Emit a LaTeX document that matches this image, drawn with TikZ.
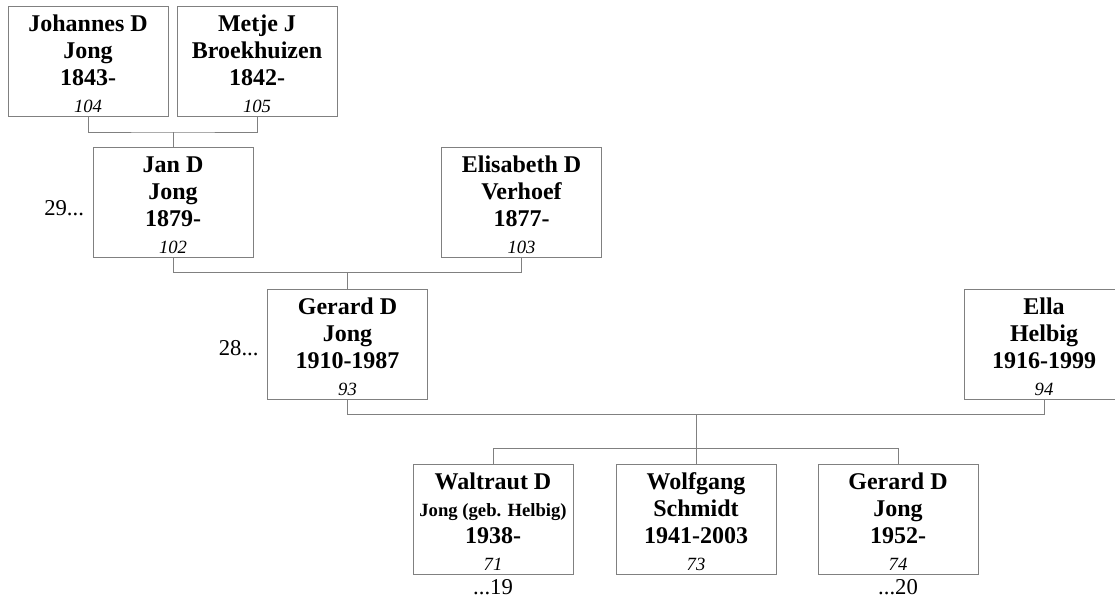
\documentclass[tikz,border=0pt]{standalone}
\usepackage{fontspec}
\setmainfont{Liberation Serif}
\usetikzlibrary{positioning,calc}

\tikzset{every picture/.style={line width=0.75pt}}
\definecolor{linegray}{RGB}{128,128,128}
\newcommand{\topgap}{\rule{0pt}{16pt}}
\newcommand{\refno}[1]{{\fontsize{14}{20.25}\selectfont\mdseries\itshape #1}}

\begin{document}
\begin{tikzpicture}[x=0.75pt,y=0.75pt,yscale=-1,xscale=1,
	person/.style={draw=linegray,fill=white,minimum width=120pt,minimum height=82.5pt,inner sep=0pt,align=center,font=\fontsize{18}{20.25}\selectfont\bfseries},
	link/.style={draw=linegray},
	side/.style={font=\fontsize{17}{20}\selectfont,inner sep=0pt}]
	\useasboundingbox (0,0) rectangle (1115,601);

	% Persons
	\node[person] (p104) at (88,61) {\topgap Johannes D\\Jong\\1843-\\\refno{104}};
	\node[person] (p105) at (257,61) {\topgap Metje J\\Broekhuizen\\1842-\\\refno{105}};
	\node[person] (p102) at (173,202.5) {\topgap Jan D\\Jong\\1879-\\\refno{102}};
	\node[person] (p103) at (521.5,202.5) {\topgap Elisabeth D\\Verhoef\\1877-\\\refno{103}};
	\node[person] (p93) at (347.5,344) {\topgap Gerard D\\Jong\\1910-1987\\\refno{93}};
	\node[person] (p94) at (1044,344) {\topgap Ella\\Helbig\\1916-1999\\\refno{94}};
	\node[person] (p71) at (493,519.5) {\topgap Waltraut D\\{\fontsize{14}{18.5}\selectfont Jong (geb. Helbig)}\\1938-\\\refno{71}};
	\node[person] (p73) at (696,519.5) {\topgap Wolfgang\\Schmidt\\1941-2003\\\refno{73}};
	\node[person] (p74) at (898,519.5) {\topgap Gerard D\\Jong\\1952-\\\refno{74}};

	% Family junctions
	\coordinate (f1) at (173,132);
	\coordinate (f2) at (347.5,272.5);
	\coordinate (f3) at (696,414.5);

	% Connectors
	\draw[link] (p104.south) |- (f1) -| (p105.south);
	\draw[link] (f1) -- (p102.north);
	\draw[link] (p102.south) |- (f2) -| (p103.south);
	\draw[link] (f2) -- (p93.north);
	\draw[link] (p93.south) |- (f3) -| (p94.south);
	\draw[link] (f3) -- (p73.north);
	\draw[link] (p71.north) -- ++(0,-16) -| (p74.north);

	% Text Node
	\node[side,anchor=east] (l29) at ([xshift=-6pt,yshift=4pt]p102.west) {29...};
	% Text Node
	\node[side,anchor=east] (l28) at ([xshift=-6pt,yshift=3pt]p93.west) {28...};
	% Text Node
	\node[side,anchor=north] (l19) at ([yshift=3pt]p71.south) {...19};
	% Text Node
	\node[side,anchor=north] (l20) at ([yshift=3pt]p74.south) {...20};
\end{tikzpicture}
\end{document}
